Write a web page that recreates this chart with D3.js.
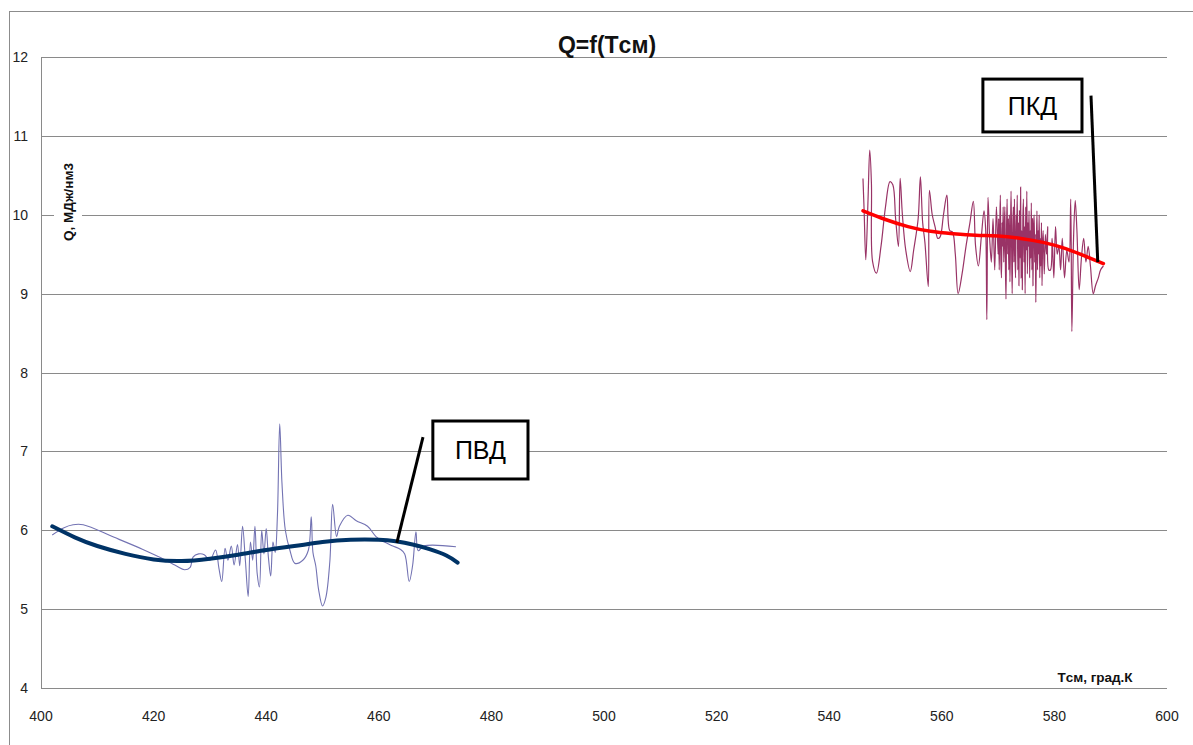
<!DOCTYPE html>
<html><head><meta charset="utf-8">
<script src="https://cdn.jsdelivr.net/npm/d3@7"></script>
<style>body{margin:0;background:#fff}svg{display:block}</style>
</head><body>
<script>
// ---- data ----
const xTicks = [400,420,440,460,480,500,520,540,560,580,600];
const yTicks = [4,5,6,7,8,9,10,11,12];
const titleText = "Q=f(Tсм)";
const xTitle = "Tсм, град.К";
const yTitle = "Q, МДж/нм3";

// ПВД measured (T, Q)
const pvdT = [402.0,404.0,405.7,407.5,413,418,421,424,425.5,426.5,427,428,429,430,431,431.6,432.1,432.7,433.2,433.8,434.3,434.9,435.3,435.8,436.3,436.8,437.2,437.6,438.0,438.4,438.8,439.2,439.6,440.0,440.4,440.8,441.2,441.6,442.0,442.4,442.8,443.4,444.2,445.1,446.5,447.5,448.0,448.3,448.8,449.3,450.0,450.6,451.3,451.8,452.5,453.0,454.5,456,458,459.5,461,462.5,463.8,464.6,465.4,466.0,466.6,467.0,468,473.7];
const pvdQ = [5.94,6.03,6.07,6.07,5.91,5.76,5.66,5.55,5.50,5.53,5.66,5.70,5.69,5.62,5.75,5.52,5.35,5.77,5.62,5.80,5.56,5.82,5.55,6.05,5.62,5.16,5.85,5.62,6.05,5.45,5.28,6.0,5.70,6.02,5.65,5.42,5.85,5.72,6.2,7.35,6.6,6.0,5.75,5.58,5.62,5.75,6.17,5.72,5.55,5.25,5.04,5.15,5.6,6.33,5.92,6.05,6.19,6.12,6.05,5.92,5.85,5.80,5.76,5.70,5.35,5.55,5.98,5.74,5.80,5.79];
// ПВД trend
const pvdTrendT = [402,406,410,415,420,425,430,435,440,445,450,455,460,463,466,469,472,474];
const pvdTrendQ = [6.05,5.91,5.80,5.70,5.63,5.61,5.64,5.69,5.75,5.80,5.85,5.88,5.88,5.86,5.82,5.76,5.68,5.59];

// ПКД measured (T, Q)
const pkdT = [546.0,546.2,546.5,546.9,547.2,547.5,547.7,548.4,549.2,550.0,550.8,551.3,551.8,552.3,552.6,553.0,553.6,554.4,555.0,555.8,556.2,556.6,557.0,557.6,557.8,558.3,558.8,559.3,559.7,560.3,560.9,561.4,561.9,562.4,562.9,563.6,564.3,565.0,565.6,566.0,566.5,567.0,567.5,567.8,568.0,568.2,568.5,568.8,569.1,569.4,569.7,
  570.0,570.1,570.2,570.3,570.4,570.5,570.6,570.7,570.8,570.9,571.0,571.1,571.2,571.3,571.4,571.5,571.6,571.7,571.8,571.9,
  572.0,572.1,572.2,572.3,572.4,572.5,572.6,572.7,572.8,572.9,573.0,573.1,573.2,573.3,573.4,573.5,573.6,573.7,573.8,573.9,
  574.0,574.1,574.2,574.3,574.4,574.5,574.6,574.7,574.8,574.9,575.0,575.1,575.2,575.3,575.4,575.5,575.6,575.7,575.8,575.9,
  576.0,576.1,576.2,576.3,576.4,576.5,576.6,576.7,576.8,576.9,577.0,577.1,577.2,577.3,577.4,577.5,577.6,577.7,577.8,577.9,
  578.0,578.2,578.4,578.6,578.8,579.0,579.3,579.6,579.9,580.2,580.5,580.8,581.1,581.4,581.8,582.2,582.6,582.9,583.1,583.4,583.7,584.0,584.4,584.8,585.2,585.6,586.0,586.4,586.9,587.3,587.8,588.2,588.7];
const pkdQ = [10.46,10.06,9.43,10.20,10.82,10.4,9.41,9.26,9.6,10.1,10.42,10.38,9.95,9.60,10.46,10.0,9.55,9.28,9.55,9.95,10.48,9.9,9.65,9.09,10.31,10.0,9.85,9.70,9.72,10.0,10.25,9.8,9.78,9.5,9.00,9.25,9.6,9.9,10.17,9.6,9.35,9.7,10.05,9.8,8.67,10.22,9.7,9.4,9.95,9.3,10.1,
  9.5,9.95,9.3,9.85,10.25,9.4,9.2,9.9,9.6,10.1,9.4,9.75,10.1,9.35,8.93,9.8,10.2,9.5,9.95,9.3,
  10.0,9.15,9.7,10.3,9.6,9.0,9.8,10.1,9.4,10.2,9.5,9.2,10.0,9.7,10.25,9.3,9.9,9.1,10.05,9.45,
  10.35,9.2,9.8,9.05,9.95,10.2,9.4,9.85,9.0,10.1,9.55,10.3,9.25,9.9,9.6,10.05,9.2,9.8,9.45,10.15,
  9.3,9.95,9.1,9.85,10.0,9.4,9.75,8.89,9.6,10.05,9.3,9.8,9.5,10.0,9.2,9.7,9.35,9.9,9.1,9.6,
  9.8,9.25,9.75,9.5,9.85,9.3,9.3,9.7,9.2,9.85,9.5,9.6,9.3,9.7,9.2,9.55,9.4,10.2,8.52,9.7,10.18,9.8,9.05,9.45,9.7,9.4,9.6,9.35,9.00,9.1,9.2,9.3,9.35];
// ПКД trend
const pkdTrendT = [546,550,554,558,562,566,570,574,578,582,586,588.7];
const pkdTrendQ = [10.05,9.94,9.85,9.79,9.76,9.74,9.73,9.70,9.65,9.57,9.46,9.38];

// callouts: label, box corners (T,Q), leader from (T,Q) to (T,Q)
const calloutLabels = ["ПВД","ПКД"];
const calloutBoxT = [[469.6,486.5],[567.3,584.9]];
const calloutBoxQ = [[7.385,6.65],[11.72,11.05]];
const calloutLineT = [[467.85,463.2],[586.5,587.7]];
const calloutLineQ = [[7.18,5.84],[11.51,9.40]];

// ---- drawing ----
const W = 1193, H = 745;
const svg = d3.select("body").append("svg").attr("width", W).attr("height", H);
const font = "'Liberation Sans', Arial, sans-serif";
const pL = 41, pR = 1167, pT = 57, pB = 688;
const x = d3.scaleLinear().domain([400,600]).range([pL,pR]);
const y = d3.scaleLinear().domain([4,12]).range([pB,pT]);

// outer chart border
svg.append("rect").attr("x",9.5).attr("y",11.5).attr("width",1300).attr("height",900)
  .attr("fill","none").attr("stroke","#8c8c8c").attr("stroke-width",1);

// gridlines
svg.append("g").selectAll("line").data(yTicks).join("line")
  .attr("x1",pL).attr("x2",pR)
  .attr("y1",d=>Math.round(y(d))+0.5).attr("y2",d=>Math.round(y(d))+0.5)
  .attr("stroke","#8a8a8a").attr("stroke-width",1);
// y axis line
svg.append("line").attr("x1",pL+0.5).attr("x2",pL+0.5).attr("y1",pT).attr("y2",pB+0.5)
  .attr("stroke","#8a8a8a");

// tick labels
svg.append("g").selectAll("text").data(yTicks).join("text")
  .attr("x",28).attr("y",d=>y(d)+5).attr("text-anchor","end")
  .attr("font-family",font).attr("font-size",14).attr("fill","#222").text(d=>d);
svg.append("g").selectAll("text").data(xTicks).join("text")
  .attr("x",d=>x(d)).attr("y",721).attr("text-anchor","middle")
  .attr("font-family",font).attr("font-size",14).attr("fill","#222").text(d=>d);

// title
svg.append("text").attr("x",607).attr("y",53).attr("text-anchor","middle")
  .attr("font-family",font).attr("font-weight","bold").attr("font-size",23).attr("fill","#111").text(titleText);

// axis titles with white backgrounds
const yt = svg.append("g").attr("transform","translate(68,202) rotate(-90)");
yt.append("rect").attr("x",-52).attr("y",-14).attr("width",104).attr("height",28).attr("fill","#fff");
yt.append("text").attr("x",0).attr("y",5).attr("text-anchor","middle")
  .attr("font-family",font).attr("font-weight","bold").attr("font-size",13.5).attr("fill","#111").text(yTitle);
const xt = svg.append("g");
xt.append("rect").attr("x",1052).attr("y",664).attr("width",86).attr("height",20).attr("fill","#fff");
xt.append("text").attr("x",1095).attr("y",682).attr("text-anchor","middle")
  .attr("font-family",font).attr("font-weight","bold").attr("font-size",13.5).attr("fill","#111").text(xTitle);

// series
const zip = (a,b)=>a.map((v,i)=>[v,b[i]]);
const lineSmooth = d3.line().x(d=>x(d[0])).y(d=>y(d[1])).curve(d3.curveCatmullRom.alpha(0.5));
const lineTrend = d3.line().x(d=>x(d[0])).y(d=>y(d[1])).curve(d3.curveNatural);

svg.append("path").attr("d",lineSmooth(zip(pvdT,pvdQ))).attr("fill","none")
  .attr("stroke","#7373b3").attr("stroke-width",1.1);
svg.append("path").attr("d",lineSmooth(zip(pkdT,pkdQ))).attr("fill","none")
  .attr("stroke","#993366").attr("stroke-width",1.2);
svg.append("path").attr("d",lineTrend(zip(pvdTrendT,pvdTrendQ))).attr("fill","none")
  .attr("stroke","#003366").attr("stroke-width",4).attr("stroke-linecap","round");
svg.append("path").attr("d",lineTrend(zip(pkdTrendT,pkdTrendQ))).attr("fill","none")
  .attr("stroke","#ff0000").attr("stroke-width",3.5).attr("stroke-linecap","round");

// axis line (bottom) on top
svg.append("line").attr("x1",pL).attr("x2",pR).attr("y1",pB+0.5).attr("y2",pB+0.5)
  .attr("stroke","#8a8a8a");

// callouts
calloutLabels.forEach((lab,i)=>{
  const g = svg.append("g");
  g.append("line")
    .attr("x1",x(calloutLineT[i][0])).attr("y1",y(calloutLineQ[i][0]))
    .attr("x2",x(calloutLineT[i][1])).attr("y2",y(calloutLineQ[i][1]))
    .attr("stroke","#000").attr("stroke-width",3);
  const bx0 = x(calloutBoxT[i][0]), bx1 = x(calloutBoxT[i][1]);
  const by0 = y(calloutBoxQ[i][0]), by1 = y(calloutBoxQ[i][1]);
  g.append("rect").attr("x",bx0).attr("y",by0).attr("width",bx1-bx0).attr("height",by1-by0)
    .attr("fill","#fff").attr("stroke","#000").attr("stroke-width",3);
  g.append("text").attr("x",(bx0+bx1)/2).attr("y",(by0+by1)/2+9).attr("text-anchor","middle")
    .attr("font-family",font).attr("font-size",25).attr("fill","#000").text(lab);
});
</script>
</body></html>
